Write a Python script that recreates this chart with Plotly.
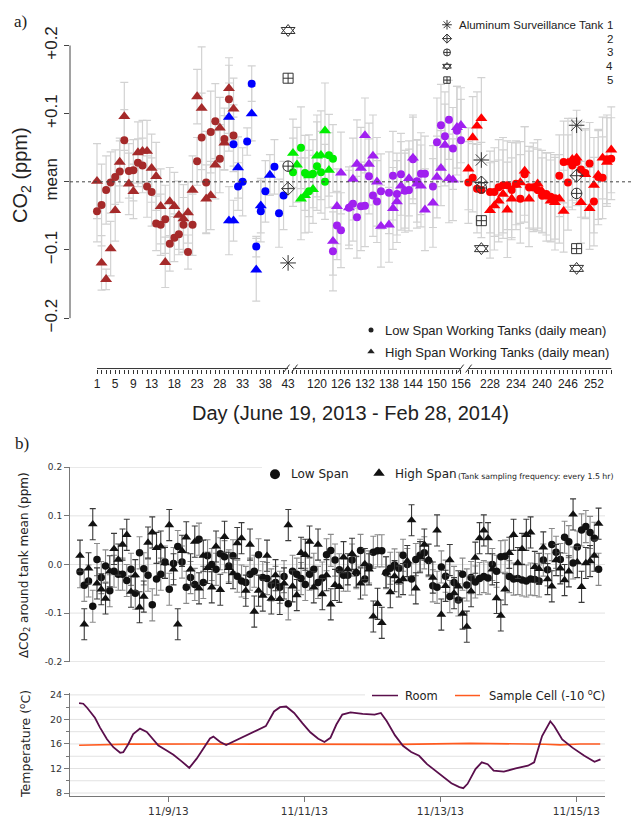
import pandas as pd
import plotly.graph_objects as go

W, H = 632, 824
SANS = "Liberation Sans, Arial, Helvetica, sans-serif"
DJV = "DejaVu Sans, Verdana, sans-serif"
SERIF = "Liberation Serif, Times New Roman, serif"

# ============ Panel a : daily means on a broken day axis ============
AXIS_SEGMENTS = [  # (first day, last day, start position, position units per day)
    (1, 43, 0.0, 1.0),
    (114, 156, 43.07, 0.879),
    (223, 256, 81.62, 0.9516),
]
LABEL_DAYS = [1, 5, 9, 13, 18, 23, 28, 33, 38, 43, 120, 126, 132, 138, 144, 150, 156,
              228, 234, 240, 246, 252]

BROWN_DAYS = list(range(1, 32))
BROWN_LOW = [-0.043, -0.034, -0.012, -0.001, 0.007, 0.015, 0.061, 0.016, 0.017, 0.028,
             0.024, -0.007, -0.015, -0.061, -0.063, -0.055, -0.091, -0.082, -0.077, -0.063,
             -0.103, -0.063, 0.030, 0.065, -0.001, 0.073, 0.089, 0.034, 0.063, 0.121, 0.068]
BROWN_LOW_ERR = [0.045, 0.06, 0.05, 0.045, 0.04, 0.045, 0.045, 0.04, 0.045, 0.035,
                 0.04, 0.045, 0.05, 0.04, 0.045, 0.05, 0.04, 0.035, 0.03, 0.04,
                 0.025, 0.045, 0.035, 0.065, 0.075, 0.06, 0.055, 0.05, 0.045, 0.05, 0.045]
BROWN_HIGH = [0.001, -0.119, -0.143, -0.098, -0.042, 0.029, 0.096, -0.003, -0.014, 0.043,
              0.045, 0.045, 0.020, 0.008, -0.036, -0.118, -0.029, -0.036, -0.049, -0.054,
              -0.045, -0.012, 0.125, 0.108, -0.025, -0.020, 0.025, 0.079, 0.057, 0.137, 0.107]
BROWN_HIGH_ERR = [0.055, 0.04, 0.015, 0.04, 0.045, 0.035, 0.05, 0.045, 0.04, 0.045,
                  0.045, 0.045, 0.05, 0.05, 0.055, 0.037, 0.05, 0.05, 0.05, 0.05,
                  0.045, 0.05, 0.04, 0.09, 0.05, 0.05, 0.05, 0.045, 0.04, 0.045, 0.045]

BLUE_LOW_DAYS = [31, 32, 33, 34, 35, 36, 37, 38, 40, 41, 42]
BLUE_LOW = [0.055, -0.007, 0.000, 0.059, 0.144, -0.095, -0.043, -0.014, 0.022, -0.046, -0.020]
BLUE_LOW_ERR = [0.04, 0.035, 0.05, 0.02, 0.026, 0.015, 0.045, 0.045, 0.04, 0.05, 0.05]
BLUE_HIGH_DAYS = [30, 30, 31, 32, 35, 36, 37, 39]
BLUE_HIGH = [0.095, -0.057, -0.057, 0.021, 0.100, -0.129, -0.035, 0.010]
BLUE_HIGH_ERR = [0.05, 0.05, 0.03, 0.045, 0.04, 0.046, 0.04, 0.03]

GREEN_LOW_DAYS = [114, 116, 117, 118, 119, 120, 121, 122, 123, 124]
GREEN_LOW = [0.014, 0.050, 0.013, -0.014, 0.012, 0.023, 0.014, 0.000, 0.039, 0.034]
GREEN_LOW_ERR = [0.05, 0.06, 0.055, 0.06, 0.05, 0.065, 0.06, 0.055, 0.06, 0.05]
GREEN_HIGH_DAYS = [114, 115, 116, 117, 118, 119, 120, 121, 122, 123]
GREEN_HIGH = [0.042, 0.025, -0.025, -0.020, 0.009, -0.011, 0.038, 0.039, 0.075, 0.017]
GREEN_HIGH_ERR = [0.05, 0.055, 0.06, 0.055, 0.06, 0.05, 0.06, 0.065, 0.07, 0.055]

PURPLE_DAYS = [124, 125, 126, 128, 129, 130, 131, 132, 133, 134, 135, 136, 138, 139, 140,
               141, 142, 143, 144, 145, 146, 147, 149, 150, 151, 152, 153, 154, 155, 156]
PURPLE_LOW = [-0.102, -0.064, -0.071, -0.038, -0.032, -0.052, -0.036, -0.035, 0.008, -0.020,
              -0.029, -0.014, -0.016, 0.009, -0.018, 0.011, -0.013, -0.012, 0.033, 0.001,
              0.012, 0.012, -0.007, 0.058, 0.083, 0.067, 0.091, 0.049, 0.075, 0.061]
PURPLE_LOW_ERR = [0.058, 0.05, 0.055, 0.06, 0.055, 0.06, 0.065, 0.06, 0.055, 0.06,
                  0.06, 0.055, 0.06, 0.065, 0.06, 0.06, 0.055, 0.06, 0.065, 0.06,
                  0.06, 0.055, 0.06, 0.065, 0.06, 0.065, 0.058, 0.06, 0.065, 0.06]
PURPLE_HIGH = [-0.087, -0.036, 0.013, -0.038, 0.004, 0.026, 0.020, 0.068, 0.026, 0.038,
               0.000, -0.065, -0.063, -0.039, -0.029, -0.006, -0.014, 0.005, 0.035, -0.003,
               -0.006, -0.041, -0.031, 0.007, 0.020, 0.054, 0.005, 0.003, 0.080, 0.083]
PURPLE_HIGH_ERR = [0.05, 0.055, 0.06, 0.055, 0.06, 0.065, 0.06, 0.055, 0.06, 0.06,
                   0.065, 0.06, 0.055, 0.06, 0.06, 0.065, 0.06, 0.055, 0.06, 0.065,
                   0.06, 0.06, 0.065, 0.06, 0.055, 0.06, 0.065, 0.06, 0.06, 0.055]

RED_DAYS = [223, 224, 225, 226, 228, 229, 230, 231, 232, 233, 234, 235, 236, 237, 238, 239,
            240, 241, 242, 243, 244, 245, 246, 247, 248, 249, 250, 251, 252, 253, 254, 255, 256]
RED_LOW = [-0.001, 0.006, -0.010, -0.012, -0.015, -0.015, -0.008, -0.005, -0.005, -0.012,
           -0.003, -0.025, 0.011, -0.008, -0.008, -0.012, -0.020, -0.018, -0.022, -0.024,
           0.009, 0.029, -0.001, 0.024, 0.029, 0.018, 0.013, 0.027, -0.029, 0.007,
           0.006, 0.033, 0.034]
RED_LOW_ERR = [0.06, 0.05, 0.065, 0.07, 0.06, 0.065, 0.07, 0.07, 0.065, 0.07,
               0.06, 0.065, 0.07, 0.06, 0.065, 0.06, 0.055, 0.06, 0.065, 0.06,
               0.06, 0.06, 0.07, 0.065, 0.06, 0.07, 0.065, 0.06, 0.065, 0.07,
               0.06, 0.065, 0.06]
RED_HIGH = [0.019, 0.065, 0.082, 0.093, -0.042, -0.035, -0.028, -0.018, -0.041, -0.025,
            -0.005, -0.001, 0.016, -0.025, -0.010, -0.003, -0.014, -0.022, -0.028, -0.030,
            -0.025, -0.043, 0.028, 0.033, 0.035, -0.030, 0.011, -0.039, -0.005, 0.010,
            0.035, 0.029, 0.047]
RED_HIGH_ERR = [0.06, 0.06, 0.05, 0.06, 0.07, 0.065, 0.06, 0.065, 0.07, 0.06,
                0.065, 0.06, 0.065, 0.07, 0.06, 0.065, 0.06, 0.065, 0.06, 0.07,
                0.065, 0.06, 0.065, 0.06, 0.07, 0.06, 0.065, 0.06, 0.07, 0.065,
                0.06, 0.065, 0.063]

TANK_DAYS = [43, 226, 248]
TANK_1 = [-0.119, 0.032, 0.083]
TANK_2 = [-0.010, -0.001, 0.009]
TANK_3 = [0.023, -0.009, -0.017]
TANK_4 = [0.222, -0.098, -0.127]
TANK_5 = [0.152, -0.057, -0.098]

# ============ Panel b : deviations around tank mean (every 1.5 h) ============
B_START = "2013-11-07 16:50"
B_STEP_HOURS = 1.5
B_LOW = [-0.015, -0.043, -0.034, -0.086, 0.010, -0.027, -0.003, -0.054, -0.014, -0.020,
         -0.020, -0.033, -0.010, -0.059, 0.024, -0.009, -0.022, -0.083, -0.030, -0.020,
         0.005, -0.051, 0.002, 0.037, 0.005, -0.047, -0.027, -0.041, 0.052, -0.037,
         0.018, 0.000, -0.010, 0.022, 0.016, -0.003, 0.018, -0.024, -0.034, -0.037,
         -0.020, -0.014, 0.020, -0.027, -0.029, -0.042, -0.037, -0.047, -0.025, -0.081,
         -0.014, -0.020, -0.029, -0.041, -0.020, -0.010, -0.037,
         -0.028, 0.020, 0.029, 0.009, -0.011, -0.022, -0.022, 0.009, -0.017, 0.029,
         -0.030, -0.005, 0.025, 0.028, 0.028, -0.017, -0.008, -0.001, -0.008, 0.019,
         0.000, -0.030, 0.010, 0.019, 0.024, 0.008, -0.044, -0.047, -0.005, -0.024,
         -0.066, -0.037, -0.073, -0.020, -0.042, -0.027, -0.036, -0.029, -0.025, -0.028,
         0.000, -0.014, 0.016, 0.017, -0.025, -0.030, -0.029, -0.032, -0.034, -0.030,
         -0.031, -0.034, 0.009, -0.011, 0.041, 0.025, 0.010, 0.056, 0.047, 0.003,
         0.036, 0.071, 0.078, 0.066, 0.054, -0.010]
B_HIGH = [0.018, -0.123, -0.008, 0.083, -0.039, -0.051, -0.070, -0.014, 0.032, 0.010,
          0.041, 0.061, -0.056, -0.022, -0.088, -0.066, 0.045, 0.066, 0.034, 0.037,
          0.003, 0.081, -0.010, -0.123, 0.028, 0.056, -0.010, 0.047, -0.049, 0.018,
          -0.007, -0.047, 0.037, -0.052, 0.057, -0.007, -0.018, 0.044, 0.054, -0.054,
          0.041, -0.097, -0.054, -0.064, 0.018, -0.070, -0.022, -0.071, -0.039, 0.081,
          -0.045, -0.063, 0.024, 0.020, 0.047, -0.047, 0.041,
          -0.061, -0.022, -0.082, -0.042, -0.046, 0.015, -0.010, 0.022, -0.015, -0.039,
          0.001, -0.010, -0.107, -0.081, -0.120, -0.016, -0.057, -0.024, -0.035, -0.030,
          0.007, 0.091, -0.049, 0.015, 0.041, 0.010, -0.027, 0.070, -0.103, -0.044,
          0.009, -0.059, -0.045, -0.101, -0.128, -0.055, 0.014, 0.054, 0.070, 0.054,
          -0.010, -0.069, -0.105, -0.051, 0.024, 0.061, 0.003, 0.032, 0.061, 0.066,
          -0.005, -0.009, 0.035, -0.030, -0.045, 0.009, -0.008, -0.032, -0.014, 0.103,
          0.005, -0.046, 0.003, 0.007, 0.018, 0.084]
B_LOW_ERR = 0.033
B_HIGH_ERR = 0.032

# ============ Panel c : temperatures ============
T_ORIGIN = "2013-11-07 00:00"
ROOM_HOURS = [16.5, 18.0, 19.4, 22.1, 23.9, 26.3, 28.6, 31.0, 32.1, 33.9,
              35.6, 38.0, 40.4, 42.7, 44.5, 47.4, 49.8, 52.7, 55.4, 58.0,
              60.4, 62.7, 63.9, 66.2, 68.4, 70.9, 74.5, 78.0, 80.4, 82.4,
              85.3, 87.4, 89.6, 92.4, 95.3, 98.1, 100.9, 103.1, 105.2, 107.3,
              109.4, 112.3, 116.6, 120.8, 123.0, 125.1, 128.0, 130.8, 133.7, 136.5,
              139.3, 142.2, 145.0, 147.9, 150.7, 152.1, 153.6, 156.4, 158.6, 160.7,
              162.8, 166.4, 170.6, 174.9, 177.1, 179.9, 182.8, 184.2, 187.0, 190.6,
              194.8, 198.4, 200.5]
ROOM_TEMP = [22.67, 22.56, 21.87, 20.27, 18.67, 16.8, 15.47, 14.56, 14.67, 16.0,
             17.6, 18.5, 17.97, 16.8, 15.73, 14.93, 14.24, 13.17, 12.1, 13.6,
             15.2, 16.9, 17.2, 16.37, 15.84, 16.37, 17.23, 17.87, 18.5, 18.9,
             21.3, 22.0, 22.1, 21.05, 19.4, 17.9, 16.86, 16.32, 17.0, 19.17,
             20.78, 21.15, 20.9, 20.78, 21.05, 19.7, 17.4, 15.7, 14.7, 14.07,
             12.7, 11.65, 10.58, 9.6, 8.97, 8.8, 9.5, 11.9, 13.0, 12.7,
             11.65, 11.5, 12.0, 12.45, 13.0, 17.29, 19.7, 18.9, 16.75, 15.4,
             14.07, 13.1, 13.5]
CELL_HOURS = [16.5, 34.5, 59.2, 94.5, 129.8, 154.5, 172.1, 181.0, 186.3, 193.3, 200.4]
CELL_TEMP = [15.8, 15.97, 16.0, 15.95, 15.93, 16.1, 16.05, 15.95, 15.85, 16.0, 16.0]
DATE_TICKS = ["2013-11-09", "2013-11-11", "2013-11-13", "2013-11-15"]

# ---------------- colours & geometry ----------------
C_BROWN, C_BLUE, C_GREEN, C_PURPLE, C_RED = "#A52A2A", "#0000FF", "#00EE00", "#A020F0", "#FF0000"
C_ERR_A = "#d2d2d2"
C_ROOM, C_CELL = "#5a0f4c", "#ff5a1f"
INK = "#222222"

A_PX0, A_PX_PER = 97.0, 4.55          # panel-a position 0 sits at pixel 97
A_LEFT, A_RIGHT, A_BOTTOM = 70, 632, 368
A_YMIN, A_YMAX = -0.2739, 0.2594
BC_LEFT, BC_RIGHT = 70, 605
B_TOP, B_BOTTOM = 467.7, 665
C_TOP, C_BOTTOM = 696.7, 801


def day_pos(d):
    for a, b, s, k in AXIS_SEGMENTS:
        if a - 1 <= d <= b + 1:
            return s + (d - a) * k
    raise ValueError(d)


def pos_px(p):
    return A_PX0 + p * A_PX_PER


def fy(p):
    return 1 - p / H


fig = go.Figure()

groups = [
    (BROWN_DAYS, BROWN_LOW, BROWN_LOW_ERR, BROWN_DAYS, BROWN_HIGH, BROWN_HIGH_ERR, C_BROWN),
    (BLUE_LOW_DAYS, BLUE_LOW, BLUE_LOW_ERR, BLUE_HIGH_DAYS, BLUE_HIGH, BLUE_HIGH_ERR, C_BLUE),
    (GREEN_LOW_DAYS, GREEN_LOW, GREEN_LOW_ERR, GREEN_HIGH_DAYS, GREEN_HIGH, GREEN_HIGH_ERR, C_GREEN),
    (PURPLE_DAYS, PURPLE_LOW, PURPLE_LOW_ERR, PURPLE_DAYS, PURPLE_HIGH, PURPLE_HIGH_ERR, C_PURPLE),
    (RED_DAYS, RED_LOW, RED_LOW_ERR, RED_DAYS, RED_HIGH, RED_HIGH_ERR, C_RED),
]

# error bars first (underneath every marker)
for ld, lv, le, hd, hv, he, col in groups:
    for d, v, e in ((ld, lv, le), (hd, hv, he)):
        fig.add_trace(go.Scatter(
            x=[day_pos(t) for t in d], y=v, mode="markers",
            marker=dict(size=1, color="rgba(0,0,0,0)"),
            error_y=dict(type="data", array=e, color=C_ERR_A, thickness=1.2, width=4),
            xaxis="x", yaxis="y", hoverinfo="skip", showlegend=False))

for ld, lv, le, hd, hv, he, col in groups:
    fig.add_trace(go.Scatter(
        x=[day_pos(t) for t in ld], y=lv, mode="markers",
        marker=dict(symbol="circle", size=8, color=col, line=dict(width=0)),
        xaxis="x", yaxis="y", showlegend=False))
    fig.add_trace(go.Scatter(
        x=[day_pos(t) for t in hd], y=hv, mode="markers",
        marker=dict(symbol="triangle-up", size=10.5, color=col, line=dict(width=0)),
        xaxis="x", yaxis="y", showlegend=False))

tank_x = [day_pos(t) for t in TANK_DAYS]
tank_styles = [
    (TANK_1, "asterisk-open", 13),
    (TANK_2, "diamond-cross-open", 10),
    (TANK_3, "circle-cross-open", 10.5),
    (TANK_4, "triangle-up-open", 12),
    (TANK_4, "triangle-down-open", 12),
    (TANK_5, "square-cross-open", 10),
]
for vals, sym, sz in tank_styles:
    fig.add_trace(go.Scatter(
        x=tank_x, y=vals, mode="markers",
        marker=dict(symbol=sym, size=sz, color="#333", line=dict(width=1, color="#333")),
        xaxis="x", yaxis="y", showlegend=False))

# ---------------- Panel b ----------------
b_times = [pd.Timestamp(B_START) + pd.Timedelta(hours=B_STEP_HOURS * i) for i in range(len(B_LOW))]
fig.add_trace(go.Scatter(
    x=b_times, y=B_LOW, mode="markers",
    marker=dict(symbol="circle", size=7.5, color="#111"),
    error_y=dict(type="constant", value=B_LOW_ERR, color="#8a8a8a", thickness=1.1, width=3),
    xaxis="x2", yaxis="y2", showlegend=False))
fig.add_trace(go.Scatter(
    x=b_times[:len(B_HIGH)], y=B_HIGH, mode="markers",
    marker=dict(symbol="triangle-up", size=8.5, color="#111"),
    error_y=dict(type="constant", value=B_HIGH_ERR, color="#3a3a3a", thickness=1.1, width=3),
    xaxis="x2", yaxis="y2", showlegend=False))

# ---------------- Panel c ----------------
t0 = pd.Timestamp(T_ORIGIN)
fig.add_trace(go.Scatter(
    x=[t0 + pd.Timedelta(hours=h) for h in CELL_HOURS], y=CELL_TEMP, mode="lines",
    line=dict(color=C_CELL, width=1.6), xaxis="x3", yaxis="y3", showlegend=False))
fig.add_trace(go.Scatter(
    x=[t0 + pd.Timedelta(hours=h) for h in ROOM_HOURS], y=ROOM_TEMP, mode="lines",
    line=dict(color=C_ROOM, width=1.8), xaxis="x3", yaxis="y3", showlegend=False))

# ---------------- legend keys (pixel overlay axis x4/y4) ----------------
def key(xp, yp, sym, sz, col="#333", lw=1):
    fig.add_trace(go.Scatter(
        x=[xp], y=[yp], mode="markers",
        marker=dict(symbol=sym, size=sz, color=col, line=dict(width=lw, color=col)),
        xaxis="x4", yaxis="y4", showlegend=False, hoverinfo="skip"))

key(447, 20, "asterisk-open", 8)
key(447, 34, "diamond-cross-open", 7)
key(447, 48, "circle-cross-open", 7)
key(447, 62, "triangle-up-open", 7.5)
key(447, 62, "triangle-down-open", 7.5)
key(447, 76, "square-cross-open", 6.5)
key(371, 329, "circle", 5, INK, 0)
key(371, 351, "triangle-up", 6.5, INK, 0)
key(275, 475, "circle", 10, "#111", 0)
key(379, 474, "triangle-up", 10, "#111", 0)

# ---------------- shapes ----------------
shapes = []
shapes.append(dict(type="line", xref="x domain", yref="y", x0=0, x1=0, y0=-0.2, y1=0.2,
                   line=dict(color="#444", width=1)))
shapes.append(dict(type="line", xref="x domain", yref="y", x0=0, x1=1, y0=0, y1=0,
                   line=dict(color="#444", width=1, dash="3px,3px")))
for a, b, s, k in AXIS_SEGMENTS:
    shapes.append(dict(type="line", xref="x", yref="y domain", x0=day_pos(a), x1=day_pos(b),
                       y0=0, y1=0, line=dict(color="#333", width=1)))
for (a1, b1, s1, k1), (a2, b2, s2, k2) in zip(AXIS_SEGMENTS[:-1], AXIS_SEGMENTS[1:]):
    mid = (pos_px(day_pos(b1)) + pos_px(day_pos(a2))) / 2
    for xc in (mid - 4, mid + 4):
        shapes.append(dict(type="line", xref="x4", yref="y4", x0=xc - 3, x1=xc + 3,
                           y0=A_BOTTOM + 4, y1=A_BOTTOM - 4, line=dict(color="#333", width=1)))

for v in [-0.2, -0.1, 0.0, 0.1]:
    shapes.append(dict(type="line", xref="x2 domain", yref="y2", x0=0, x1=1, y0=v, y1=v,
                       layer="below", line=dict(color="#e2e2e2", width=1)))
shapes.append(dict(type="line", xref="x2 domain", yref="y2", x0=0,
                   x1=(262 - BC_LEFT) / (BC_RIGHT - BC_LEFT),
                   y0=0.2, y1=0.2, layer="below", line=dict(color="#e2e2e2", width=1)))
for v in range(8, 24, 2):
    shapes.append(dict(type="line", xref="x3 domain", yref="y3", x0=0, x1=1, y0=v, y1=v,
                       layer="below", line=dict(color="#e2e2e2", width=1)))
shapes.append(dict(type="line", xref="x3 domain", yref="y3", x0=0,
                   x1=(365 - BC_LEFT) / (BC_RIGHT - BC_LEFT),
                   y0=24, y1=24, layer="below", line=dict(color="#e2e2e2", width=1)))
shapes.append(dict(type="line", xref="x4", yref="y4", x0=372, x1=398, y0=699, y1=699,
                   line=dict(color=C_ROOM, width=1.5)))
shapes.append(dict(type="line", xref="x4", yref="y4", x0=455, x1=480, y0=699, y1=699,
                   line=dict(color=C_CELL, width=1.5)))

# ---------------- annotations ----------------
ann = []


def text(t, x, y, size, family=SANS, xanchor="left", angle=0, color=INK):
    ann.append(dict(text=t, x=x, y=y, xref="x4", yref="y4", showarrow=False,
                    xanchor=xanchor, yanchor="middle", textangle=angle,
                    font=dict(size=size, family=family, color=color)))


text("a)", 12, 17, 17, SERIF)
text("b)", 13, 444, 17, SERIF)
text("CO<sub>2</sub> (ppm)", 22, 172, 20, SANS, "center", -90)
text("Day (June 19, 2013 - Feb 28, 2014)", 350, 413, 20, SANS, "center")
text("Aluminum Surveillance Tank", 457, 20, 11.5)
for i, n in enumerate(["1", "2", "3", "4", "5"]):
    text(n, 615, 20 + 14 * i, 11.5, SANS, "right")
text("Low Span Working Tanks (daily mean)", 383, 329, 13)
text("High Span Working Tanks (daily mean)", 383, 352, 13)
text("Low Span", 289, 475, 12, DJV)
text("High Span", 393, 475, 12, DJV)
text("(Tank sampling frequency: every 1.5 hr)", 456, 477, 7.8, DJV)
text("\u0394CO<sub>2</sub> around tank mean (ppm)", 25, 567, 12, DJV, "center", -90)
text("Temperature (<sup>o</sup>C)", 25, 748, 12.5, DJV, "center", -90)
text("Room", 403, 699, 11.5, DJV)
text("Sample Cell (-10 <sup>o</sup>C)", 487, 699, 11.5, DJV)

# ---------------- axes ----------------
tick_days = [d for a, b, s, k in AXIS_SEGMENTS for d in range(a, b + 1)]
tick_pos = [day_pos(d) for d in tick_days]

t_left = pd.Timestamp("2013-11-07 13:18")
t_right = pd.Timestamp("2013-11-15 10:06")

fig.update_layout(
    width=W, height=H, margin=dict(l=0, r=0, t=0, b=0),
    paper_bgcolor="white", plot_bgcolor="rgba(0,0,0,0)",
    showlegend=False, font=dict(family=SANS, color=INK),
    shapes=shapes, annotations=ann,
    xaxis=dict(domain=[A_LEFT / W, A_RIGHT / W], anchor="y",
               range=[(A_LEFT - A_PX0) / A_PX_PER, (A_RIGHT - A_PX0) / A_PX_PER],
               tickmode="array", tickvals=[day_pos(d) for d in LABEL_DAYS],
               ticktext=[str(d) for d in LABEL_DAYS],
               ticks="outside", ticklen=4, tickwidth=1, tickcolor="#333",
               minor=dict(tickmode="array", tickvals=tick_pos, ticks="outside",
                          ticklen=4, tickwidth=1, tickcolor="#333", showgrid=False),
               tickfont=dict(size=12, family=SANS, color=INK),
               showgrid=False, zeroline=False, showline=False),
    yaxis=dict(domain=[fy(A_BOTTOM), 1], anchor="x", range=[A_YMIN, A_YMAX],
               tickmode="array", tickvals=[-0.2, -0.1, 0, 0.1, 0.2],
               ticktext=["\u22120.2", "\u22120.1", "mean", "+0.1", "+0.2"],
               tickangle=-90, ticks="outside", ticklen=5, tickcolor="#444",
               tickfont=dict(size=17, family=SANS, color=INK),
               showgrid=False, zeroline=False, showline=False),
    xaxis2=dict(domain=[BC_LEFT / W, BC_RIGHT / W], anchor="y2", type="date",
                range=[t_left, t_right], visible=False, showgrid=False, zeroline=False),
    yaxis2=dict(domain=[fy(B_BOTTOM), fy(B_TOP)], anchor="x2", range=[-0.2005, 0.2005],
                tickmode="array", tickvals=[-0.2, -0.1, 0, 0.1, 0.2],
                ticktext=["-0.2", "-0.1", "0.0", "0.1", "0.2"],
                ticks="outside", ticklen=5, tickcolor="#777",
                showline=True, linecolor="#777", linewidth=1,
                tickfont=dict(size=9, family=DJV, color="#333"),
                showgrid=False, zeroline=False),
    xaxis3=dict(domain=[BC_LEFT / W, BC_RIGHT / W], anchor="y3", type="date",
                range=[t_left, t_right], tickmode="array",
                tickvals=[pd.Timestamp(d) for d in DATE_TICKS], tickformat="%-m/%-d/%y",
                ticks="outside", ticklen=5, tickcolor="#777",
                showline=True, linecolor="#777", linewidth=1,
                tickfont=dict(size=10.5, family=DJV, color="#333"),
                showgrid=False, zeroline=False),
    yaxis3=dict(domain=[fy(C_BOTTOM), fy(C_TOP)], anchor="x3", range=[7.47, 24.27],
                tick0=8, dtick=4, ticks="outside", ticklen=5, tickcolor="#777",
                minor=dict(tick0=8, dtick=2, ticks="outside", ticklen=3, tickcolor="#777",
                           showgrid=False),
                showline=True, linecolor="#777", linewidth=1,
                tickfont=dict(size=9.5, family=DJV, color="#333"),
                showgrid=False, zeroline=False),
    xaxis4=dict(domain=[0, 1], anchor="y4", range=[0, W], visible=False, fixedrange=True),
    yaxis4=dict(domain=[0, 1], anchor="x4", range=[H, 0], visible=False, fixedrange=True),
)

fig.write_html("out.html")
